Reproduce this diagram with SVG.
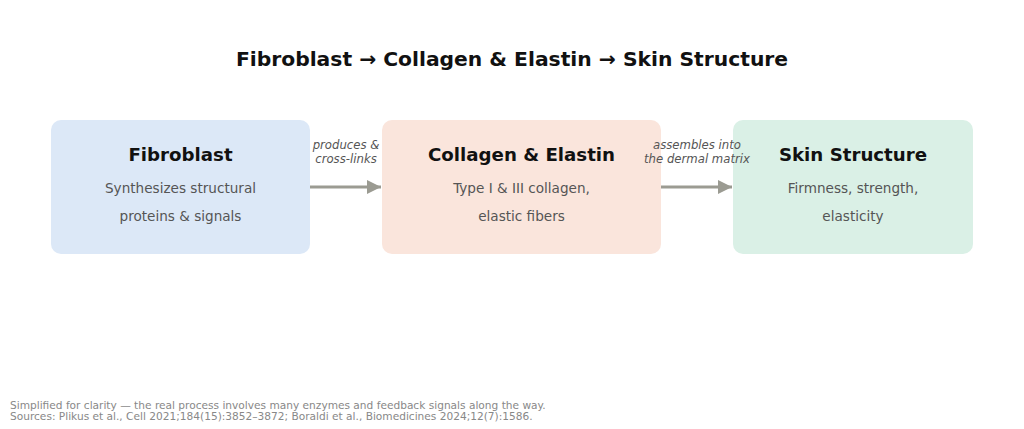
<svg xmlns="http://www.w3.org/2000/svg" width="1024" height="429" viewBox="0 0 1024 429">
<style>
text{font-family:"DejaVu Sans",Verdana,sans-serif;text-anchor:middle}
.title{font-size:20.3px;font-weight:bold;fill:#111}
.nt{font-size:18.2px;font-weight:bold;fill:#111}
.ns{font-size:13.6px;fill:#555}
.el{font-size:11.7px;font-style:italic;fill:#555}
.foot{font-size:10.6px;fill:#888;text-anchor:start}
.edge{stroke:#9b9b92;stroke-width:3;fill:none}
</style>
<defs>
<marker id="ah" markerWidth="16" markerHeight="16" refX="15" refY="8" orient="auto" markerUnits="userSpaceOnUse">
<path d="M1,1 L15,8 L1,15 Z" fill="#9b9b92"/>
</marker>
</defs>
<rect width="1024" height="429" fill="#fff"/>
<text class="title" x="512" y="66">Fibroblast → Collagen &amp; Elastin → Skin Structure</text>
<g id="node-fibroblast">
<rect x="51" y="120" width="259" height="134" rx="10" fill="#dce8f7"/>
<text class="nt" x="180.5" y="161">Fibroblast</text>
<text class="ns" x="180.5" y="193">Synthesizes structural</text>
<text class="ns" x="180.5" y="221">proteins &amp; signals</text>
</g>
<g id="node-collagen">
<rect x="382" y="120" width="279" height="134" rx="10" fill="#fae5dc"/>
<text class="nt" x="521.5" y="161">Collagen &amp; Elastin</text>
<text class="ns" x="521.5" y="193">Type I &amp; III collagen,</text>
<text class="ns" x="521.5" y="221">elastic fibers</text>
</g>
<g id="node-skin">
<rect x="733" y="120" width="240" height="134" rx="10" fill="#daf0e6"/>
<text class="nt" x="853" y="161">Skin Structure</text>
<text class="ns" x="853" y="193">Firmness, strength,</text>
<text class="ns" x="853" y="221">elasticity</text>
</g>
<g id="connectors">
<line class="edge" x1="310" y1="187" x2="381" y2="187" marker-end="url(#ah)"/>
<text class="el" x="346" y="149">produces &amp;</text>
<text class="el" x="346" y="163">cross-links</text>
<line class="edge" x1="661" y1="187" x2="732" y2="187" marker-end="url(#ah)"/>
<text class="el" x="697" y="149">assembles into</text>
<text class="el" x="697" y="163">the dermal matrix</text>
</g>
<text class="foot" x="10" y="409">Simplified for clarity — the real process involves many enzymes and feedback signals along the way.</text>
<text class="foot" x="10" y="420">Sources: Plikus et al., Cell 2021;184(15):3852–3872; Boraldi et al., Biomedicines 2024;12(7):1586.</text>
</svg>
